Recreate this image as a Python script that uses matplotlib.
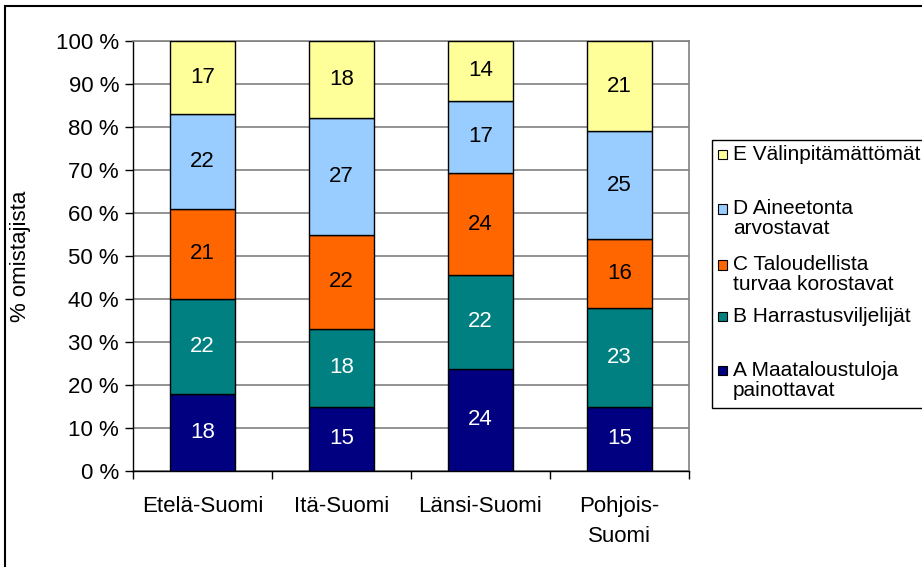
import numpy as np
import matplotlib.pyplot as plt
from matplotlib.patches import Rectangle

plt.rcParams['font.family'] = ['Liberation Sans', 'DejaVu Sans']

regions = ['Etelä-Suomi', 'Itä-Suomi', 'Länsi-Suomi', 'Pohjois-\nSuomi']
series_names = ['A Maataloustuloja\npainottavat', 'B Harrastusviljelijät',
                'C Taloudellista\nturvaa korostavat', 'D Aineetonta\narvostavat',
                'E Välinpitämättömät']
a_vals = [18, 15, 24, 15]
b_vals = [22, 18, 22, 23]
c_vals = [21, 22, 24, 16]
d_vals = [22, 27, 17, 25]
e_vals = [17, 18, 14, 21]
colors = ['#000080', '#008080', '#FF6600', '#99CCFF', '#FFFF99']
text_colors = ['white', 'white', 'black', 'black', 'black']

data = np.array([a_vals, b_vals, c_vals, d_vals, e_vals], dtype=float)
pct = data / data.sum(axis=0) * 100

W, H = 922, 567
FS = 16
fig = plt.figure(figsize=(W / 100, H / 100), dpi=100)
ax = fig.add_axes([133 / W, 1 - 471 / H, (689 - 133) / W, (471 - 41) / H])

x = np.arange(len(regions))
bottom = np.zeros(len(regions))
for i in range(len(series_names)):
    bars = ax.bar(x, pct[i], bottom=bottom, width=0.47, color=colors[i],
                  edgecolor='black', linewidth=1.0, zorder=3)
    for j, b in enumerate(bars):
        ax.text(b.get_x() + b.get_width() / 2, bottom[j] + pct[i][j] / 2,
                f'{int(data[i][j])}', ha='center', va='center',
                fontsize=FS, color=text_colors[i], zorder=4)
    bottom += pct[i]

ax.set_xlim(-0.5, len(regions) - 0.5)
ax.set_ylim(0, 100)
ax.set_yticks(np.arange(0, 101, 10))
ax.set_yticklabels([f'{v} %' for v in range(0, 101, 10)], fontsize=FS)
ax.yaxis.grid(True, color='#808080', linewidth=1.2, zorder=0)
ax.set_axisbelow(True)

ax.set_xticks(x)
ax.set_xticklabels(regions, fontsize=FS, linespacing=1.55)
ax.set_xticks(np.arange(-0.5, len(regions), 1), minor=True)
ax.tick_params(axis='x', which='major', length=0, pad=18)
ax.tick_params(axis='x', which='minor', length=6, width=1, color='black', direction='out')
ax.tick_params(axis='y', length=6, width=1, direction='out', pad=4)

for side in ['top', 'right']:
    ax.spines[side].set_color('#808080')
    ax.spines[side].set_linewidth(1.2)
for side in ['left', 'bottom']:
    ax.spines[side].set_color('black')
    ax.spines[side].set_linewidth(1.0)

ax.set_ylabel('% omistajista', fontsize=FS)
ax.yaxis.set_label_coords(-(133 - 31) / (689 - 133), 0.5)

# legend, drawn by hand to get Excel's uneven entry spacing
leg_box = Rectangle((712 / W, 1 - 408 / H), 0.3, (408 - 140) / H,
                    transform=fig.transFigure, facecolor='white',
                    edgecolor='black', linewidth=1.0)
fig.patches.append(leg_box)
entry_y = [370, 316, 265, 209, 154]   # first-line centres (px from top)
line_gap = 20
for i in range(len(series_names) - 1, -1, -1):
    yc = entry_y[i]
    sq = 9
    fig.patches.append(Rectangle((718 / W, 1 - (yc + sq / 2) / H), sq / W, sq / H,
                                 transform=fig.transFigure, facecolor=colors[i],
                                 edgecolor='black', linewidth=0.8))
    for k, line in enumerate(series_names[i].split('\n')):
        fig.text(733 / W, 1 - (yc + k * line_gap) / H, line, fontsize=15,
                 ha='left', va='center')

# outer chart border (runs off the right and bottom edges)
fig.patches.append(Rectangle((5 / W, -0.1), 1.2, 1 - 6 / H + 0.1,
                             transform=fig.transFigure, fill=False,
                             edgecolor='black', linewidth=1.5))

fig.savefig('out.png', dpi=100)
